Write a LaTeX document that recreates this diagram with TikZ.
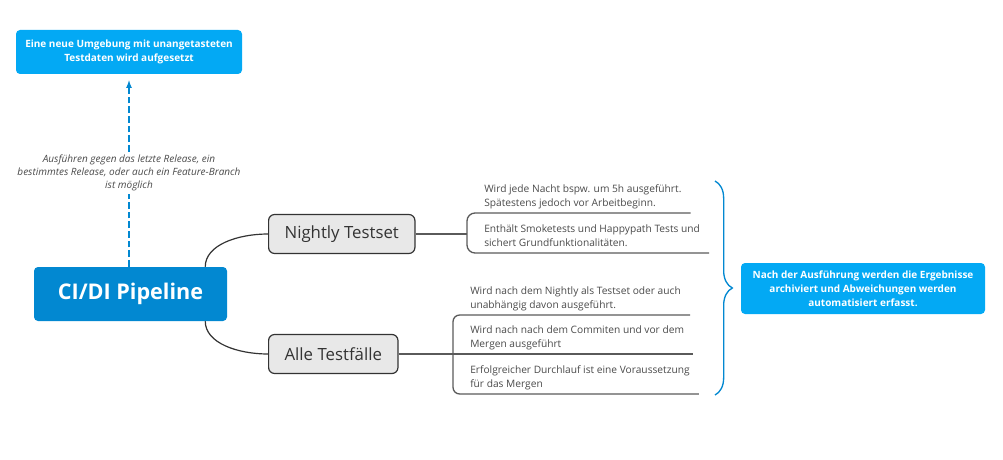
\documentclass[tikz,border=0pt]{standalone}
\usepackage{fontspec}
\setmainfont{Open Sans}
\usepackage{tikz}
\usetikzlibrary{arrows,decorations.pathreplacing}

\definecolor{mainblue}{HTML}{0288D1}
\definecolor{noteblue}{HTML}{03A9F4}
\definecolor{topicgray}{HTML}{E8E8E8}
\definecolor{textgray}{HTML}{4A4A4A}
\definecolor{linegray}{HTML}{5A5A5A}

\tikzset{
	central/.style={rectangle,rounded corners=3pt,fill=mainblue,text=white,minimum width=144.75pt,minimum height=40.5pt,font=\fontsize{16.2}{19}\selectfont\bfseries},
	topic/.style={rectangle,rounded corners=4.5pt,draw=black!80,line width=0.9pt,fill=topicgray,text=black!80,minimum height=29.25pt,inner xsep=12pt,anchor=west,font=\fontsize{12.6}{15}\selectfont},
	note/.style={rectangle,rounded corners=3pt,fill=noteblue,text=white,align=center,font=\fontsize{7.5}{10.5}\selectfont\bfseries},
	leaf/.style={inner xsep=6.75pt,inner ysep=1.35pt,align=left,anchor=south west,text=textgray,execute at end node=\strut,font=\fontsize{7.65}{10.5}\selectfont},
	hint/.style={align=center,fill=white,inner sep=2pt,text=textgray,font=\fontsize{7.5}{10}\selectfont\itshape},
	branch/.style={draw=black!80,line width=0.9pt},
	leafline/.style={draw=linegray,line width=1pt},
	relation/.style={draw=mainblue,line width=1pt,dash pattern=on 5pt off 2.25pt},
	summary/.style={draw=mainblue,line width=1pt}
}

\begin{document}
\begin{tikzpicture}[x=0.75pt,y=-0.75pt]
		\useasboundingbox (0,0) rectangle (1003,460);
%		\draw[help lines,step=50] (0,0) grid (1003,460);
		\path (130.5,294) coordinate (cidi_c);
		\path (129,52) coordinate (newenv_c);
		\path (129,173) coordinate (hint_c);
		\path (863,288.5) coordinate (archive_c);

		\path (268,234) coordinate (nightly_l);
		\path (467,234) coordinate (nightly_br);
		\path (475,213) coordinate (nightly_a);
		\path (475,253) coordinate (nightly_b);

		\path (268,354) coordinate (alle_l);
		\path (453,354) coordinate (alle_br);
		\path (461,315) coordinate (alle_a);
		\path (461,354) coordinate (alle_b);
		\path (461,394) coordinate (alle_c);

		\path (715,181) coordinate (brace_t);
		\path (715,395) coordinate (brace_b);

		% topics
		\node[central] (cidi) at (cidi_c) {CI/DI Pipeline};
		\node[note,minimum width=169.5pt,minimum height=33pt] (newenv) at (newenv_c) {Eine neue Umgebung mit unangetasteten\\Testdaten wird aufgesetzt};
		\node[note,minimum width=183pt,minimum height=38.25pt] (archive) at (archive_c) {Nach der Ausführung werden die Ergebnisse\\archiviert und Abweichungen werden\\automatisiert erfasst.};
		\node[topic] (nightly) at (nightly_l) {Nightly Testset};
		\node[topic] (alle) at (alle_l) {Alle Testfälle};

		% leaves
		\node[leaf] (n1) at (nightly_a) {Wird jede Nacht bspw. um 5h ausgeführt.\\Spätestens jedoch vor Arbeitbeginn.};
		\node[leaf] (n2) at (nightly_b) {Enthält Smoketests und Happypath Tests und\\sichert Grundfunktionalitäten.};
		\node[leaf] (a1) at (alle_a) {Wird nach dem Nightly als Testset oder auch\\unabhängig davon ausgeführt.};
		\node[leaf] (a2) at (alle_b) {Wird nach nach dem Commiten und vor dem\\Mergen ausgeführt};
		\node[leaf] (a3) at (alle_c) {Erfolgreicher Durchlauf ist eine Voraussetzung\\für das Mergen};

		% branches
		\draw[branch] ([xshift=-16.5pt]cidi.north east) .. controls +(0,-22) and +(-30,0) .. (nightly.west);
		\draw[branch] ([xshift=-16.5pt]cidi.south east) .. controls +(0,22) and +(-30,0) .. (alle.west);

		\draw[leafline] (nightly.east) -- (nightly_br);
		\draw[leafline,rounded corners=6pt] (n1.south east) -- (n1.south west -| nightly_br) -- (n2.south west -| nightly_br) -- (n2.south east);
		\draw[leafline] (alle.east) -- (alle_br);
		\draw[leafline,rounded corners=5pt] (a1.south east) -- (a1.south west -| alle_br) -- (a3.south west -| alle_br) -- (a3.south east);
		\draw[leafline] (a2.south west -| alle_br) -- (a2.south east);

		% relation
		\node[hint] (hint) at (hint_c) {Ausführen gegen das letzte Release, ein\\bestimmtes Release, oder auch ein Feature-Branch\\ist möglich};
		\draw[relation] (cidi.north -| hint) -- (hint.south);
		\draw[relation,-latex,shorten >=4.5pt] (hint.north) -- (newenv.south -| hint);

		% summary
		\draw[summary,decorate,decoration={brace,amplitude=13pt}] (brace_t) -- (brace_b);

\end{tikzpicture}
\end{document}
